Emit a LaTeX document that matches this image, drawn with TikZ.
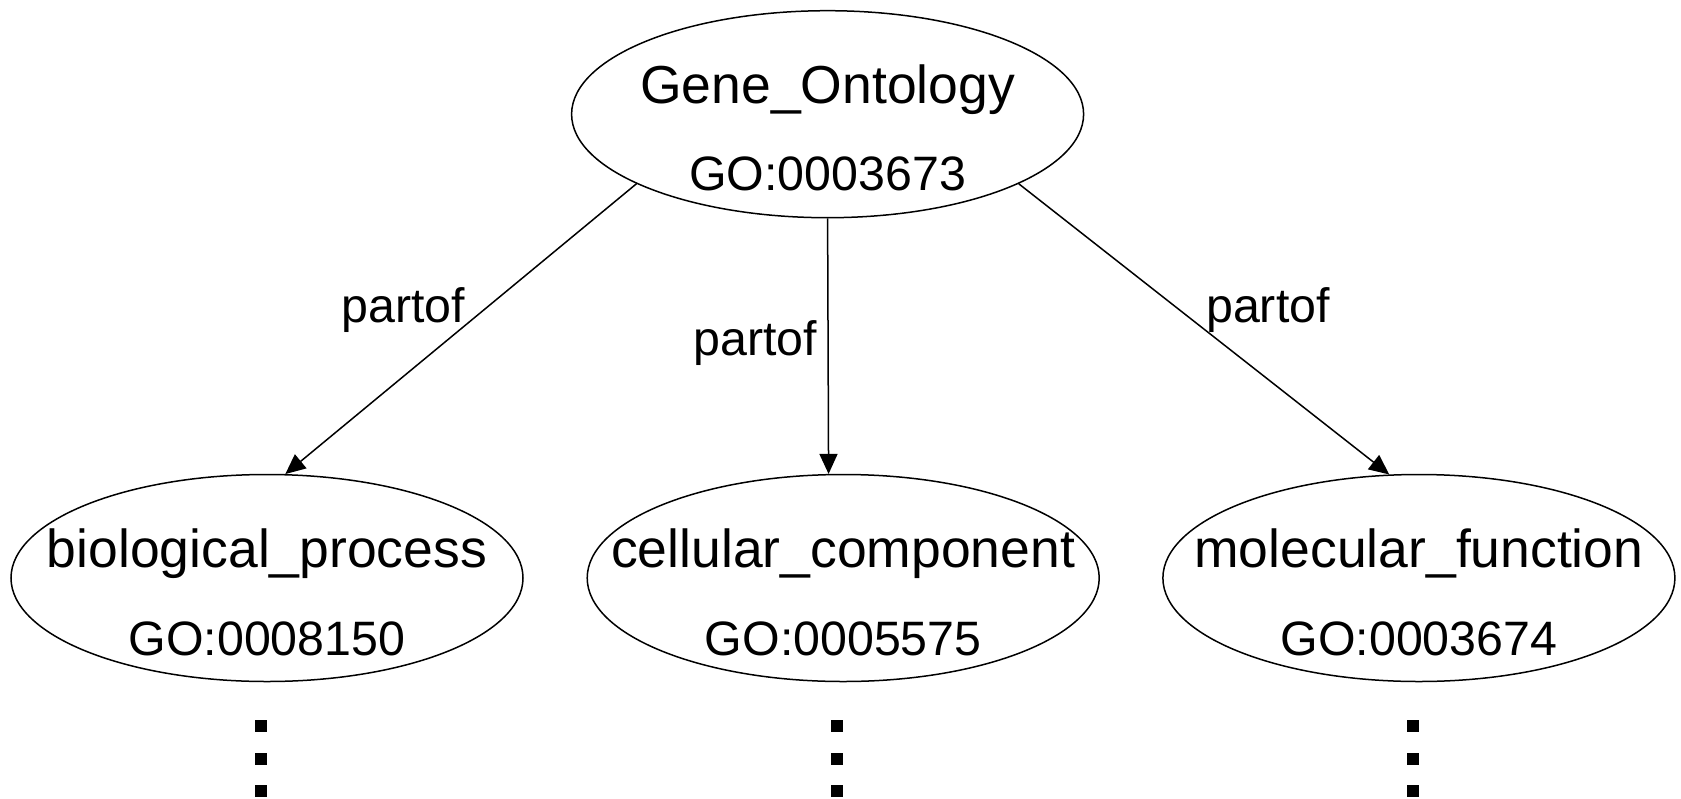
\documentclass[tikz,border=0pt]{standalone}
\usepackage{fontspec}
\setmainfont{Liberation Sans}
\usetikzlibrary{arrows.meta,calc,shapes.geometric}
\tikzset{
  term/.style={draw, ellipse, line width=1.5pt, minimum width=512pt, minimum height=207pt, inner sep=0pt},
  termname/.style={anchor=base, inner sep=0pt, font=\fontsize{53.5}{60}\selectfont},
  termid/.style={anchor=base, inner sep=0pt, font=\fontsize{48.3}{54}\selectfont},
  rel/.style={line width=1.5pt, -{Triangle[length=20pt,width=18pt]}},
  rellabel/.style={anchor=base, inner sep=0pt, font=\fontsize{48.3}{54}\selectfont},
  dotsq/.style={fill=black}
}
\begin{document}
\begin{tikzpicture}[x=1pt,y=-1pt]
\useasboundingbox (0,0) rectangle (1681,798);
% term ellipses
\node[term] (go) at (827.6,114.2) {};
\node[term] (bp) at (267,578) {};
\node[term] (cc) at (843.2,578) {};
\node[term] (mf) at (1418.9,578) {};
% texts
\node[termname] (goname) at (827.6,103) {Gene\_Ontology};
\node[termid]   (goid)   at (827.6,190) {GO:0003673};
\node[termname] (bpname) at (267,567) {biological\_process};
\node[termid]   (bpid)   at (267,655) {GO:0008150};
\node[termname] (ccname) at (843.2,567) {cellular\_component};
\node[termid]   (ccid)   at (843.2,655) {GO:0005575};
\node[termname] (mfname) at (1418.9,567) {molecular\_function};
\node[termid]   (mfid)   at (1418.9,655) {GO:0003674};
% relations
\draw[rel] (go.200.6) -- (bp.80.8);
\draw[rel] (go.south) -- (cc.98.7);
\draw[rel] (go.-20.5) -- (mf.106.9);
\node[rellabel] (l1) at (403.5,322) {partof};
\node[rellabel] (l2) at (755.5,355) {partof};
\node[rellabel] (l3) at (1268,322) {partof};
% continuation dots
\foreach \n in {bp,cc,mf}{
  \foreach \d in {0,1,2}{
    \fill[dotsq] ($(\n.center)+(-12,142+32.5*\d)$) rectangle ++(12,12);
  }
}
\end{tikzpicture}
\end{document}
